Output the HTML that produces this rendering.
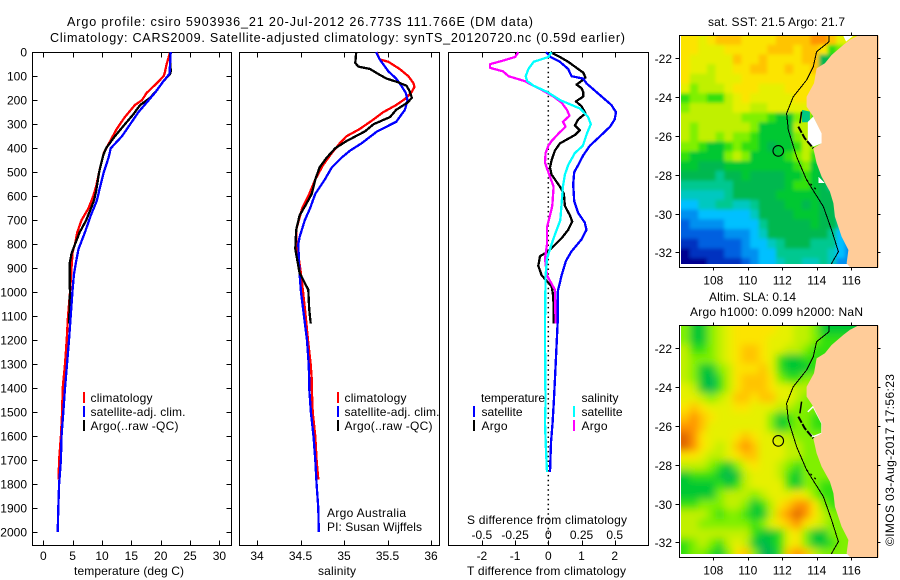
<!DOCTYPE html>
<html>
<head>
<meta charset="utf-8">
<title>Argo profile</title>
<style>
html,body{margin:0;padding:0;background:#fff;width:900px;height:580px;overflow:hidden}
svg{display:block}
text{font-family:"Liberation Sans",sans-serif;font-size:12px;fill:#000}
text.big{font-size:12.6px}
</style>
</head>
<body>
<svg id="fig" xmlns="http://www.w3.org/2000/svg" width="900" height="580" viewBox="0 0 900 580">
<defs>
<filter id="blur1" filterUnits="userSpaceOnUse" x="640" y="0" width="260" height="580"><feGaussianBlur stdDeviation="1.8"/></filter>
<filter id="blur2" filterUnits="userSpaceOnUse" x="640" y="0" width="260" height="580"><feGaussianBlur stdDeviation="4"/></filter>
<clipPath id="clipSst"><rect x="681" y="36" width="196" height="228"/></clipPath>
<clipPath id="clipSla"><rect x="681" y="326" width="196" height="228"/></clipPath>
</defs>
<text class="big" x="67" y="26" textLength="466" lengthAdjust="spacing">Argo profile: csiro 5903936_21 20-Jul-2012 26.773S 111.766E (DM data)</text>
<text class="big" x="50" y="42" textLength="575" lengthAdjust="spacing">Climatology: CARS2009. Satellite-adjusted climatology: synTS_20120720.nc (0.59d earlier)</text>
<text x="708" y="26" textLength="137" lengthAdjust="spacing">sat. SST: 21.5 Argo: 21.7</text>
<text x="709" y="301" textLength="87" lengthAdjust="spacing">Altim. SLA: 0.14</text>
<text x="690" y="316" textLength="173" lengthAdjust="spacing">Argo h1000: 0.099 h2000: NaN</text>
<text transform="translate(894,546) rotate(-90)" textLength="172" lengthAdjust="spacing">©IMOS 03-Aug-2017 17:56:23</text>

<text x="74" y="575" textLength="110" lengthAdjust="spacing">temperature (deg C)</text>
<text x="318" y="575" textLength="38" lengthAdjust="spacing">salinity</text>
<text x="467" y="575" textLength="159" lengthAdjust="spacing">T difference from climatology</text>
<text x="467" y="524" textLength="160" lengthAdjust="spacing">S difference from climatology</text>

<text x="327" y="517" textLength="79" lengthAdjust="spacing">Argo Australia</text>
<text x="327" y="531" textLength="95" lengthAdjust="spacing">PI: Susan Wijffels</text>

<g>
<rect x="83" y="392" width="2" height="11" fill="#f00"/>
<text x="90.5" y="402" textLength="62" lengthAdjust="spacing">climatology</text>
<rect x="83" y="406" width="2" height="11" fill="#00f"/>
<text x="90.5" y="416" textLength="95" lengthAdjust="spacing">satellite-adj. clim.</text>
<rect x="83" y="420" width="2" height="11" fill="#000"/>
<text x="90.5" y="430" textLength="88" lengthAdjust="spacing">Argo(..raw -QC)</text>
</g>
<g>
<rect x="337" y="392" width="2" height="11" fill="#f00"/>
<text x="344.5" y="402" textLength="62" lengthAdjust="spacing">climatology</text>
<rect x="337" y="406" width="2" height="11" fill="#00f"/>
<text x="344.5" y="416" textLength="95" lengthAdjust="spacing">satellite-adj. clim.</text>
<rect x="337" y="420" width="2" height="11" fill="#000"/>
<text x="344.5" y="430" textLength="88" lengthAdjust="spacing">Argo(..raw -QC)</text>
</g>
<g>
<text x="481" y="402" textLength="64" lengthAdjust="spacing">temperature</text>
<rect x="473" y="406" width="2" height="11" fill="#00f"/>
<text x="481.5" y="416" textLength="41" lengthAdjust="spacing">satellite</text>
<rect x="473" y="420" width="2" height="11" fill="#000"/>
<text x="481.5" y="430" textLength="26" lengthAdjust="spacing">Argo</text>
<text x="581.5" y="402" textLength="37" lengthAdjust="spacing">salinity</text>
<rect x="573" y="406" width="2" height="11" fill="#0ff"/>
<text x="581.5" y="416" textLength="41" lengthAdjust="spacing">satellite</text>
<rect x="573" y="420" width="2" height="11" fill="#f0f"/>
<text x="581.5" y="430" textLength="26" lengthAdjust="spacing">Argo</text>
</g>
</svg>

<script>
// ---- shared depth ticks
const depthTicks = [0,100,200,300,400,500,600,700,800,900,1000,1100,1200,1300,1400,1500,1600,1700,1800,1900,2000];

// ---- temperature panel (deg C)
const tempTicks = [0,5,10,15,20,25,30];
const tempClimDepth = [0,50,85,100,130,170,200,220,270,320,370,420,460,500,560,600,650,700,750,800,830,900,1000,1100,1200,1300,1400,1500,1600,1700,1780];
const tempClim = [21.6,21.0,20.7,20.5,19.3,17.6,16.8,15.6,13.9,12.5,11.4,10.3,9.9,9.5,9.0,8.5,7.7,6.5,5.8,5.4,5.0,4.8,4.55,4.2,3.98,3.7,3.3,3.2,3.0,2.7,2.6];
const tempSatDepth = [0,90,120,170,210,250,300,350,400,440,500,560,620,680,750,820,870,930,1000,1100,1200,1300,1400,1500,1600,1700,1800,1900,2000];
const tempSat = [21.7,21.5,20.5,19.0,17.6,16.2,14.8,13.4,11.5,11.1,10.3,9.7,9.1,8.1,7.1,6.0,5.6,5.2,4.95,4.66,4.38,4.04,3.7,3.4,3.1,3.0,2.7,2.55,2.45];
const tempArgoDepth = [0,80,90,120,160,190,220,260,300,350,400,430,500,580,620,700,750,800,840,880,960,1000,1050,1130];
const tempArgo = [21.6,21.7,21.6,20.5,19.3,18.2,16.5,15.3,13.9,12.2,10.7,10.2,9.5,9.0,8.6,7.3,6.2,5.4,4.8,4.5,4.5,4.55,4.5,4.4];

// ---- salinity panel
const salTicks = [34,34.5,35,35.5,36];
const salClimDepth = [0,30,40,70,100,130,145,170,195,220,250,280,320,350,380,420,470,530,600,650,700,740,780,800,860,908,1000,1100,1200,1300,1366,1400,1500,1600,1700,1780];
const salClim = [35.375,35.41,35.51,35.64,35.74,35.80,35.81,35.77,35.70,35.60,35.45,35.34,35.18,35.03,34.95,34.86,34.76,34.67,34.59,34.52,34.48,34.45,34.45,34.46,34.48,34.50,34.53,34.56,34.586,34.617,34.63,34.63,34.64,34.67,34.685,34.705];
const salSatDepth = [0,30,50,80,110,140,170,200,240,290,330,380,410,440,480,530,590,650,700,770,800,908,1000,1100,1200,1300,1366,1400,1500,1600,1700,1800,1900,2000];
const salSat = [35.37,35.41,35.45,35.51,35.6,35.66,35.71,35.73,35.70,35.6,35.38,35.2,35.07,34.97,34.86,34.78,34.67,34.61,34.55,34.49,34.475,34.486,34.506,34.54,34.575,34.594,34.6,34.6,34.62,34.65,34.67,34.685,34.705,34.71];
const salArgoDepth = [0,45,60,70,90,110,125,140,160,190,210,240,270,300,330,370,400,440,480,530,590,630,680,740,820,860,920,948,990,1071,1130];
const salArgo = [35.14,35.13,35.165,35.30,35.39,35.49,35.62,35.72,35.75,35.78,35.73,35.60,35.53,35.34,35.24,35.03,34.90,34.80,34.72,34.67,34.63,34.57,34.49,34.45,34.44,34.46,34.49,34.53,34.59,34.60,34.617];

// ---- difference panel
const diffTTicks = [-2,-1,0,1,2];
const diffSTickLabels = ['-0.5','-0.25','0','0.25','0.5'];
const diffSTicks = [-0.5,-0.25,0,0.25,0.5];
const dTSatDepth = [0,20,40,70,100,110,130,160,190,220,250,280,310,350,390,430,470,500,550,620,670,710,740,780,830,870,930,1000,1130,1366,1450,1543,1626,1750];
const dTSat = [-0.07,0.07,0.35,0.6,0.7,1.05,1.15,1.4,1.65,1.9,2.04,2.0,1.86,1.56,1.25,1.05,0.9,0.78,0.75,0.78,0.9,1.1,1.15,1.0,0.7,0.53,0.4,0.28,0.28,0.2,0.17,0.13,0.08,0.05];
const dTArgoDepth = [0,20,40,65,85,105,120,135,150,165,185,205,225,255,280,305,325,345,380,410,450,480,510,560,590,640,680,705,740,775,830,850,890,930,975,1000,1020,1130];
const dTArgo = [0.07,0.35,0.6,0.85,1.05,1.12,1.0,0.85,1.0,1.05,1.05,0.83,1.0,1.12,0.9,0.8,0.95,0.8,0.35,0.2,0.1,0.05,0.1,0.35,0.47,0.5,0.65,0.72,0.6,0.4,0,-0.25,-0.3,-0.2,0.1,0.13,0.15,0.17];
const dSSatDepth = [0,20,40,70,100,120,140,165,200,235,270,300,340,390,420,470,510,560,630,700,760,800,860,930,1130,1366,1450,1543,1650,1750];
const dSSat = [0.025,0,-0.11,-0.15,-0.17,-0.16,-0.11,-0.01,0.09,0.24,0.3,0.32,0.29,0.26,0.2,0.15,0.125,0.11,0.1,0.09,0.05,0.025,-0.01,-0.02,-0.025,-0.023,-0.02,-0.025,-0.018,-0.01];
const dSArgoDepth = [0,20,35,50,65,80,100,115,120,140,160,185,210,240,265,290,310,340,370,390,420,460,500,560,640,730,800,860,930,990,1130];
const dSArgo = [-0.226,-0.25,-0.34,-0.44,-0.44,-0.34,-0.30,-0.21,-0.18,-0.11,-0.04,0.04,0.1,0.14,0.16,0.11,0.13,0.075,0.025,0,-0.02,-0.025,0,0.04,0.03,-0.01,-0.01,-0.025,-0.01,0.05,0.055];

// ---- map data: palette levels on a 0.5 deg grid, north to south
const lonTicks = [108,110,112,114,116];
const latTicks = [-22,-24,-26,-28,-30,-32];
const sstLevels = [
[13,13,12,13,14,14,14,13,13,13,13,14,14,14,14,15,15,14,12,12],
[13,13,12,12,12,13,13,13,13,13,14,14,14,13,14,14,13,9,10,12],
[13,12,12,12,12,12,14,13,13,14,13,13,13,13,14,14,7,8,8,8],
[13,12,12,11,12,12,13,13,14,14,13,13,14,13,13,14,7,8],
[13,11,11,11,12,12,12,13,13,13,13,13,13,13,13,13,13],
[12,10,11,11,11,12,13,13,13,12,12,12,13,13,13,13],
[9,10,10,9,9,11,12,13,12,12,12,12,12,13,13,12],
[10,11,11,11,11,11,12,12,11,11,12,12,12,12,12,11],
[11,11,11,11,11,11,11,10,10,10,9,8,8,10,11,9,8],
[11,10,11,11,11,11,11,11,10,8,8,8,8,11,11,9,8],
[11,10,11,11,10,11,10,10,9,8,8,8,8,10,11,9,8],
[10,10,9,8,8,9,10,9,9,8,7,8,8,9,11,10,9],
[9,8,8,8,8,10,11,10,8,8,8,8,9,10,11,9,8],
[8,8,7,7,7,8,8,8,8,8,8,8,8,9,10,8,7],
[7,7,7,7,6,7,7,8,7,7,7,7,8,8,9,8,7],
[6,6,6,6,6,6,7,7,7,7,7,7,8,9,9,8,7,6],
[5,5,5,5,5,6,7,7,7,7,7,8,8,8,8,8,7,7],
[4,4,5,5,6,6,5,5,6,7,7,7,8,8,7,8,7,7,7],
[3,3,4,4,4,4,4,4,5,7,7,7,7,8,8,8,7,7,6],
[2,3,3,3,3,4,4,4,4,6,7,7,7,7,7,8,7,7,6],
[2,2,2,2,2,3,3,3,4,5,7,7,7,7,7,7,7,6,4],
[1,1,2,2,2,2,2,3,4,4,5,6,7,7,7,6,6,6,4,3],
[0,1,1,1,1,2,2,3,3,4,4,6,6,6,6,6,6,5,4,3],
[0,0,0,1,1,1,1,2,3,4,4,5,6,6,5,5,6,5,3,3]
];
const slaLevels = [
[10,8,8,10,11,12,13,13,13,13,13,12,12,11,11,10,8,8],
[10,8,8,10,11,12,13,13,13,13,12,12,12,11,11,10,9],
[11,9,9,10,11,12,13,14,14,13,12,12,11,11,10,9,9],
[11,10,10,10,11,12,13,14,14,13,12,9,8,8,9,9,9],
[11,10,8,8,10,11,13,13,13,14,12,9,8,8,8,9,9],
[11,10,8,7,9,11,13,14,14,14,13,10,9,9,10,10],
[12,11,8,7,9,11,13,14,14,14,13,12,12,11,11,10],
[12,12,11,10,11,12,14,14,13,14,14,12,12,11,10,10],
[13,14,13,12,12,12,13,13,12,12,12,11,11,10,10,10],
[14,15,14,13,12,12,12,12,12,12,10,8,9,10,10,9],
[15,15,14,12,12,12,12,12,12,12,10,8,9,10,10,9],
[16,15,13,12,12,12,13,14,13,12,12,11,11,10,10,10],
[16,15,13,12,11,12,14,15,14,12,12,12,11,11,10,10],
[13,13,12,11,11,12,13,14,14,12,12,12,11,11,10,10],
[11,11,11,10,9,8,10,12,13,12,12,11,10,9,10,10],
[8,9,9,9,8,7,8,11,12,12,12,11,9,8,10,10],
[8,8,8,8,9,8,9,11,12,12,12,12,9,8,10,10,9],
[8,8,8,8,10,11,11,11,10,11,12,12,12,13,12,10,9],
[9,9,10,10,10,11,11,10,8,9,11,13,14,15,15,13,10,9],
[11,11,11,10,9,10,10,9,8,8,11,14,15,16,15,13,11,10],
[11,11,10,10,10,10,10,10,9,10,12,13,14,15,13,12,11,10],
[11,11,11,11,11,11,11,11,9,8,8,9,12,13,10,8,8,10,10],
[9,10,11,10,9,11,12,11,8,7,8,9,12,13,10,8,8,9,10,10],
[9,10,10,9,8,10,13,14,10,7,7,9,14,15,14,11,10,10,10,10]
];
const palette = ['#000090','#0030c0','#0060e0','#0090f0','#00c0ff','#00c8c0','#00c890','#00b850','#00c830','#30e010','#80f000','#c0f000','#e6f000','#fce400','#ffc400','#ff9400','#e06800'];
const coastLon = [116.46,115.92,115.54,114.86,114.47,113.99,113.84,113.41,113.41,113.80,114.28,114.28,113.80,113.99,114.28,114.76,114.96,115.05,115.44,115.83,115.73,115.92];
const coastLat = [-20.80,-21.05,-21.31,-21.83,-22.26,-22.52,-23.29,-23.98,-24.49,-25.0,-25.87,-26.38,-26.64,-27.41,-28.10,-28.87,-29.47,-30.16,-31.19,-31.88,-32.57,-32.76];
const isobathLon = [114.72,114.72,113.99,113.80,113.41,112.64,112.25,112.35,112.83,113.41,114.38,114.86,115.25,114.86,114.86];
const isobathLat = [-20.8,-21.14,-21.66,-22.43,-23.12,-23.98,-24.84,-25.69,-27.07,-28.27,-29.65,-30.85,-31.97,-32.57,-32.76];
const bayLon = [113.48,113.8,114.3,114.3,113.8,113.48];
const bayLat = [-25.28,-25.0,-25.87,-26.38,-26.55,-26.3];
const bayPatchLon = [113.14,113.6,113.6,113.14];
const bayPatchLat = [-24.66,-24.75,-25.3,-25.3];
const northGapLon = [116.1,115.54,115.7];
const northGapLat = [-20.85,-20.85,-21.14];
const midGapLon = [114.09,114.47,114.09];
const midGapLat = [-28.1,-28.44,-28.44];
const islandLon = [112.93,113.3,113.8];
const islandLat = [-25.52,-26.12,-26.64];
const peninsulaLon = [113.12,113.02];
const peninsulaLat = [-24.75,-25.35];
const abrolhosLon = [113.41,113.99];
const abrolhosLat = [-28.27,-28.79];
const floatLon = 111.766;
const floatLat = -26.773;

// ---- scales
const yDepth = d => 52.2 + d * 0.24;
const xTemp = v => 43.3 + v * 5.87;
const xSal = v => 257 + (v - 34) * 87;
const xDT = v => 548.3 + v * 33.2;
const xDS = v => 548.3 + v * 132.8;
const xLon = v => 713.3 + (v - 108) * 17.25;
const yLatA = v => 58.3 + (-22 - v) * 19.4;
const yLatB = v => 348.3 + (-22 - v) * 19.4;

const figure = document.getElementById('fig');
const NS = 'http://www.w3.org/2000/svg';
function mk(tag, attrs, parent) {
  const el = document.createElementNS(NS, tag);
  for (const k in attrs) el.setAttribute(k, attrs[k]);
  (parent || figure).appendChild(el);
  return el;
}
function drawLine(x1, y1, x2, y2, name, parent) {
  const el = mk('line', {x1: x1, y1: y1, x2: x2, y2: y2, stroke: '#000', 'stroke-width': 1, 'shape-rendering': 'crispEdges'}, parent);
  
  
  return el;
}
function drawLabel(x, y, str, anchor, name, parent) {
  const el = mk('text', {x: x, y: y, 'text-anchor': anchor}, parent);
  el.textContent = str;
  
  
  return el;
}
function drawFrame(x, y, w, h, name) {
  const el = mk('rect', {x: x, y: y, width: w, height: h, fill: 'none', stroke: '#000', 'stroke-width': 1.2, 'shape-rendering': 'crispEdges'});
  
  
}
function profile(xs, depths, sx, color, width, name) {
  const pts = xs.map((v, i) => sx(v).toFixed(1) + ',' + yDepth(depths[i]).toFixed(1)).join(' ');
  const el = mk('polyline', {points: pts, fill: 'none', stroke: color, 'stroke-width': width, 'stroke-linejoin': 'round', 'shape-rendering': 'crispEdges'});
  
  
}

// ---- panel frames and ticks
const plotTop = 52.5, plotBot = 545.5;
function xTicks(vals, sx) {
  vals.forEach(v => {
    const x = Math.round(sx(v)) + 0.5;
    drawLine(x, plotTop, x, plotTop + 5, 'top-tick');
    drawLine(x, plotBot, x, plotBot - 5, 'bottom-tick');
  });
}
drawFrame(32.5, plotTop, 199, plotBot - plotTop, 'temperature-panel-frame');
drawFrame(239.5, plotTop, 200, plotBot - plotTop, 'salinity-panel-frame');
drawFrame(448.5, plotTop, 200, plotBot - plotTop, 'difference-panel-frame');
xTicks(tempTicks, xTemp);
xTicks(salTicks, xSal);
xTicks(diffTTicks, xDT);
depthTicks.forEach(d => {
  const y = Math.round(yDepth(d)) + 0.5;
  drawLine(32.5, y, 37.5, y, 'depth-tick-left');
  drawLine(231.5, y, 226.5, y, 'depth-tick-right');
  drawLabel(27, y + 4, String(d), 'end', 'depth-tick-label');
});
tempTicks.forEach(v => drawLabel(xTemp(v), 560, String(v), 'middle', 'temperature-tick-label'));
salTicks.forEach(v => drawLabel(xSal(v), 560, String(v), 'middle', 'salinity-tick-label'));
diffTTicks.forEach(v => drawLabel(xDT(v), 560, String(v), 'middle', 't-difference-tick-label'));
diffSTicks.forEach((v, i) => drawLabel(xDS(v), 539, diffSTickLabels[i], 'middle', 's-difference-tick-label'));

// ---- zero reference
const zeroLine = mk('line', {x1: xDT(0), y1: 52.5, x2: xDT(0), y2: 545, stroke: '#000', 'stroke-width': 1.5, 'stroke-dasharray': '1.5 3.3'});



// ---- profile series
profile(tempClim, tempClimDepth, xTemp, '#f00', 2.3, 'temperature-climatology-line');
profile(tempArgo, tempArgoDepth, xTemp, '#000', 2.3, 'temperature-argo-line');
profile(tempSat, tempSatDepth, xTemp, '#00f', 2.3, 'temperature-satellite-line');
profile(salClim, salClimDepth, xSal, '#f00', 2.3, 'salinity-climatology-line');
profile(salSat, salSatDepth, xSal, '#00f', 2.3, 'salinity-satellite-line');
profile(salArgo, salArgoDepth, xSal, '#000', 2.3, 'salinity-argo-line');
profile(dTArgo, dTArgoDepth, xDT, '#000', 2.3, 't-difference-argo-line');
profile(dTSat, dTSatDepth, xDT, '#00f', 2.3, 't-difference-satellite-line');
profile(dSArgo, dSArgoDepth, xDS, '#f0f', 2.3, 's-difference-argo-line');
profile(dSSat, dSSatDepth, xDS, '#0ff', 2.3, 's-difference-satellite-line');

// ---- maps
function poly(lons, lats, sy, closeExtra) {
  const p = lons.map((v, i) => xLon(v).toFixed(1) + ',' + sy(lats[i]).toFixed(1));
  return p.concat(closeExtra || []).join(' ');
}
function drawMap(levels, sy, clipId, blurId, prefix, frameTop, frameBot, showGaps) {
  const clip = mk('g', {'clip-path': 'url(#' + clipId + ')'});
  
  
  const heat = mk('g', {filter: 'url(#' + blurId + ')'}, clip);
  const cw = 0.5 * 17.25, ch = 0.5 * 19.4;
  const y0 = sy(-20.8);
  levels.forEach((row, r) => {
    row.forEach((lvl, c) => {
      let x = xLon(106.13) + c * cw, y = y0 + r * ch, w = cw + 0.6, h = ch + 0.6;
      if (c === 0) { x -= 14; w += 14; }
      if (c === row.length - 1) { w += 80; }
      if (r === 0) { y -= 14; h += 14; }
      if (r === levels.length - 1) { h += 14; }
      const cell = mk('rect', {x: x, y: y, width: w, height: h, fill: palette[lvl]}, heat);
      
      
    });
  });
  if (showGaps) {
    const patch = mk('polygon', {points: poly(bayPatchLon, bayPatchLat, sy), fill: '#00c880'}, clip);
    
    
    const bay = mk('polygon', {points: poly(bayLon, bayLat, sy), fill: '#fff'}, clip);
    
    
    const gapN = mk('polygon', {points: poly(northGapLon, northGapLat, sy), fill: '#fff'}, clip);
    
    
    const gapM = mk('polygon', {points: poly(midGapLon, midGapLat, sy), fill: '#fff', 'shape-rendering': 'crispEdges'}, clip);
    
    
  } else {
    const edge = mk('polyline', {points: poly(bayLon, bayLat, sy), fill: 'none', stroke: '#fff', 'stroke-width': 1.5}, clip);
    
    
  }
  const isl = mk('polyline', {points: poly(islandLon, islandLat, sy), fill: 'none', stroke: '#000', 'stroke-width': 2, 'stroke-dasharray': '7 1.5'}, clip);
  
  
  const pen = mk('polyline', {points: poly(peninsulaLon, peninsulaLat, sy), fill: 'none', stroke: '#000', 'stroke-width': 1.5}, clip);
  
  
  const abr = mk('polyline', {points: poly(abrolhosLon, abrolhosLat, sy), fill: 'none', stroke: '#000', 'stroke-width': 1.3, 'stroke-dasharray': '2 3.5'}, clip);
  
  
  const rightEdge = xLon(117.6);
  const land = mk('polygon', {points: poly(coastLon, coastLat, sy, [rightEdge.toFixed(1) + ',' + frameBot, rightEdge.toFixed(1) + ',' + frameTop]), fill: '#ffcc99'});
  
  
  const iso = mk('polyline', {points: poly(isobathLon, isobathLat, sy), fill: 'none', stroke: '#000', 'stroke-width': 1, 'shape-rendering': 'crispEdges'}, clip);
  
  
  const marker = mk('circle', {cx: xLon(floatLon), cy: sy(floatLat), r: 5.3, fill: 'none', stroke: '#000', 'stroke-width': 1.1});
  
  
  drawFrame(679.5, frameTop, 198, frameBot - frameTop, prefix + '-map-frame');
  lonTicks.forEach(v => {
    const x = Math.round(xLon(v)) + 0.5;
    drawLine(x, frameTop, x, frameTop - 3, 'longitude-tick');
    drawLine(x, frameBot, x, frameBot + 3, 'longitude-tick');
    drawLabel(xLon(v), frameBot + 17, String(v), 'middle', 'longitude-tick-label');
  });
  latTicks.forEach(v => {
    const y = Math.round(sy(v)) + 0.5;
    drawLine(679.5, y, 675.5, y, 'latitude-tick');
    drawLine(877.5, y, 880.5, y, 'latitude-tick');
    drawLabel(672, y + 4.5, String(v), 'end', 'latitude-tick-label');
  });
}
drawMap(sstLevels, yLatA, 'clipSst', 'blur1', 'sst', 35.5, 267.5, true);
drawMap(slaLevels, yLatB, 'clipSla', 'blur2', 'sla', 325.5, 557.5, false);
</script>
</body>
</html>
